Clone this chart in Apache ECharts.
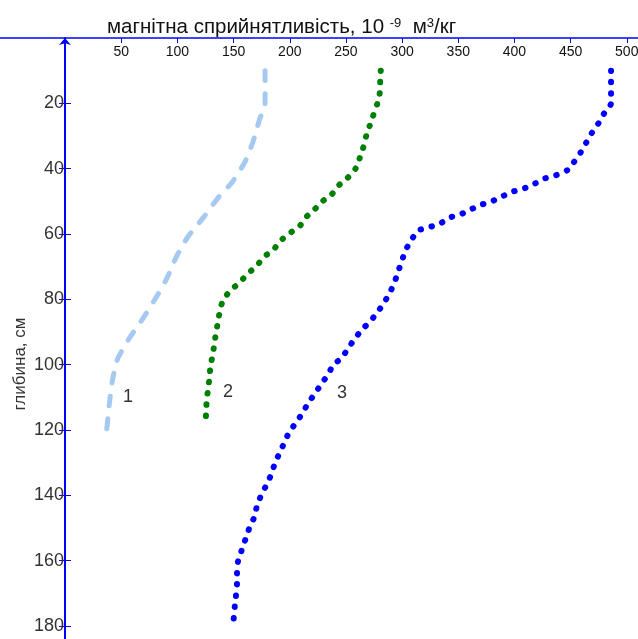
<!DOCTYPE html>
<html>
<head>
<meta charset="utf-8">
<script src="https://cdn.jsdelivr.net/npm/echarts@6/dist/echarts.min.js"></script>
<style>
html,body{margin:0;padding:0;background:#fff;}
#chart{width:638px;height:639px;}
</style>
</head>
<body>
<div id="chart"></div>
<script>
// X axis (magnetic susceptibility) tick labels
const xTicks = [50, 100, 150, 200, 250, 300, 350, 400, 450, 500];
// Y axis (depth, cm) tick labels
const yTicks = [20, 40, 60, 80, 100, 120, 140, 160, 180];

// Curve 1
const depth1 = [10, 20, 25, 32, 38, 44, 49, 55, 61, 67, 74, 80, 86, 92, 98, 104, 110, 120];
const susc1  = [178, 178, 173, 167, 160, 149, 136, 123, 109, 99, 90, 80, 69, 57, 47, 42.5, 40, 37];

// Curve 2
const depth2 = [10, 13, 17, 20, 24, 27, 30, 34, 37, 40, 43, 45, 48, 50, 52.5, 55, 57.5, 60, 62, 65, 67, 70, 72, 75, 77, 80, 83, 86, 90, 93, 97, 100, 104, 107, 111, 114, 118];
const susc2  = [281, 280.5, 280, 278, 274, 271, 268, 265, 262, 258.5, 251, 244, 237, 229, 222, 214, 209, 199, 192, 185, 177, 170, 163, 155, 148, 141, 138, 136.5, 134.5, 133, 131.5, 129.5, 128.5, 127.4, 126, 125.6, 125];

// Curve 3
const depth3 = [10, 13, 17, 20, 23, 26, 29, 32, 35, 38, 40.5, 42, 43, 44.6, 46, 47, 48.5, 50, 51, 52.5, 54, 55, 57, 58, 59, 62, 65, 68, 72, 75, 78, 81, 84, 87, 89, 92, 95, 98, 100, 103, 106, 109, 112, 115, 118, 121, 124, 127, 130, 134, 137, 140, 143, 147, 150, 153, 157, 160, 164, 167, 171, 174, 178];
const susc3  = [486, 486, 486, 486, 480, 475, 469, 464, 459, 453, 447, 437, 427, 418, 409, 399, 389, 380, 371, 361, 352, 342, 333, 323, 314, 308, 303, 300, 296, 293, 289, 284, 278, 271, 265, 258, 252, 246, 239, 234, 228, 222, 216, 211, 205, 199, 195, 191, 187, 183, 179, 174.5, 171, 168, 164, 161, 157, 154, 153, 153, 152, 151, 150];

// Curve annotation labels: [x, depth, text]
const curveLabels = [[56, 110, '1'], [145, 108.4, '2'], [246.5, 108.7, '3']];

const pairs = (xs, ds) => xs.map((v, i) => [v, ds[i]]);

const chart = echarts.init(document.getElementById('chart'), null, {renderer: 'canvas'});

const axisBlue = '#0000FF';
const labelFont = 'Arial, "Liberation Sans", sans-serif';

function makeSeries(xs, ds, color, width, dash, lbl) {
  return {
    type: 'line',
    xAxisIndex: 0,
    yAxisIndex: 0,
    data: pairs(xs, ds),
    symbol: 'none',
    showSymbol: false,
    smooth: 0.2,
    clip: false,
    animation: false,
    lineStyle: {color: color, width: width, type: dash, cap: 'round', join: 'round'},
    markPoint: {
      symbol: 'circle',
      symbolSize: 0,
      silent: true,
      animation: false,
      data: [{coord: [lbl[0], lbl[1]], value: lbl[2]}],
      label: {show: true, position: 'inside', formatter: lbl[2], color: '#333', fontSize: 18, fontFamily: labelFont}
    }
  };
}

chart.setOption({
  backgroundColor: '#fff',
  animation: false,
  title: {
    text: 'магнітна сприйнятливість, 10 {sup|-9}  м{sup|3}/кг',
    left: 102,
    top: 12,
    textStyle: {
      fontSize: 20.5,
      fontWeight: 'normal',
      color: '#111',
      fontFamily: labelFont,
      rich: {
        sup: {fontSize: 13, verticalAlign: 'top', lineHeight: 13, padding: [0, 0, 12, 0], color: '#111', fontFamily: labelFont}
      }
    }
  },
  grid: {left: 0, top: 38, right: 0, bottom: 0, containLabel: false, outerBoundsMode: 'none'},
  xAxis: {
    type: 'value',
    position: 'top',
    min: -58,
    max: 510,
    splitLine: {show: false},
    axisLine: {show: true, onZero: false, lineStyle: {color: axisBlue, width: 1.5}},
    axisTick: {show: true, inside: true, length: 5, lineStyle: {color: axisBlue, width: 1}, customValues: xTicks},
    axisLabel: {show: true, inside: true, margin: 7, color: '#111', fontSize: 14, fontFamily: '"Liberation Sans Narrow", "Arial Narrow", sans-serif', customValues: xTicks, verticalAlign: 'top'}
  },
  yAxis: [{
    type: 'value',
    position: 'left',
    offset: -65,
    inverse: true,
    min: 0,
    max: 184,
    splitLine: {show: false},
    axisLine: {show: true, onZero: false, symbol: ['none', 'arrow'], symbolSize: [9, 7], lineStyle: {color: axisBlue, width: 2}},
    axisTick: {show: true, inside: false, length: 6, lineStyle: {color: axisBlue, width: 1}, customValues: yTicks},
    axisLabel: {show: true, margin: 1, color: '#333', fontSize: 18, fontFamily: labelFont, customValues: yTicks}
  }, {
    type: 'value',
    position: 'left',
    offset: -65,
    inverse: true,
    min: 0,
    max: 184,
    splitLine: {show: false},
    axisLine: {show: false, onZero: false},
    axisTick: {show: true, inside: true, length: 6, lineStyle: {color: axisBlue, width: 1}, customValues: yTicks},
    axisLabel: {show: false}
  }],
  graphic: [{
    type: 'text',
    x: 20,
    y: 364,
    rotation: Math.PI / 2,
    style: {text: 'глибина, см', fill: '#333', fontSize: 17, fontFamily: labelFont, textAlign: 'center', textVerticalAlign: 'middle'}
  }],
  series: [
    makeSeries(susc1, depth1, '#A6C9F1', 5, [10, 13], curveLabels[0]),
    makeSeries(susc2, depth2, '#008000', 6, [0.5, 10.8], curveLabels[1]),
    makeSeries(susc3, depth3, '#0000FF', 6, [0.5, 10.8], curveLabels[2])
  ]
});
</script>
</body>
</html>
